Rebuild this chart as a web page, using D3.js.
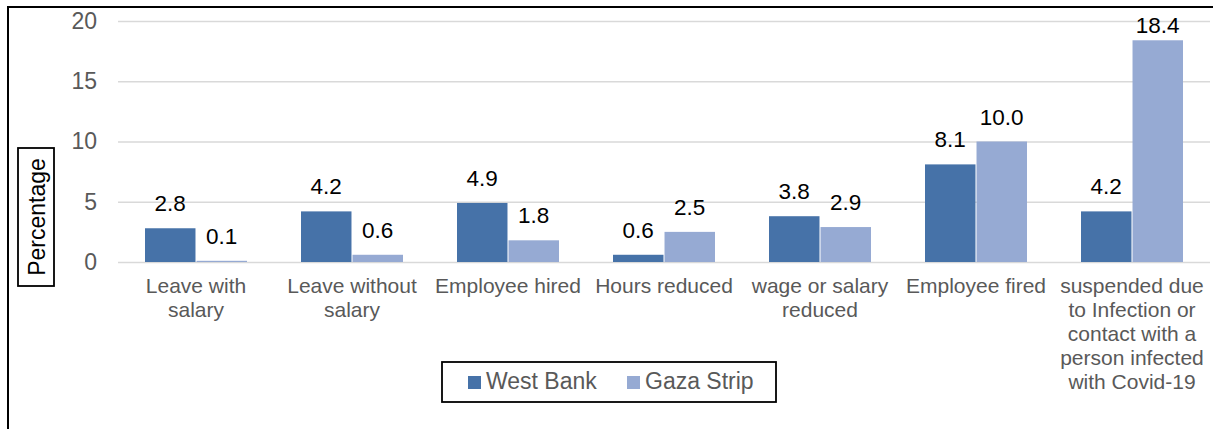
<!DOCTYPE html>
<html>
<head>
<meta charset="utf-8">
<script src="https://cdn.jsdelivr.net/npm/d3@7"></script>
<style>
  body { margin: 0; background: #fff; }
  svg { font-family: Arial, "Liberation Sans", sans-serif; }
</style>
</head>
<body>
<svg id="chart"></svg>
<script>
// Data
const categories = [
  ["Leave with", "salary"],
  ["Leave without", "salary"],
  ["Employee hired"],
  ["Hours reduced"],
  ["wage or salary", "reduced"],
  ["Employee fired"],
  ["suspended due", "to Infection or", "contact with a", "person infected", "with Covid-19"]
];
const westBank = [2.8, 4.2, 4.9, 0.6, 3.8, 8.1, 4.2];
const gazaStrip = [0.1, 0.6, 1.8, 2.5, 2.9, 10.0, 18.4];
const seriesNames = ["West Bank", "Gaza Strip"];
const yTicks = [0, 5, 10, 15, 20];

const colors = ["#4672A8", "#96AAD3"];
const width = 1213, height = 429;
const plot = { left: 118, right: 1210, top: 21, bottom: 262 };

const svg = d3.select("#chart").attr("width", width).attr("height", height);

// outer frame
svg.append("rect")
  .attr("x", 8).attr("y", 7).attr("width", 1220).attr("height", 440)
  .attr("fill", "none").attr("stroke", "#000").attr("stroke-width", 2);

const x = d3.scaleBand()
  .domain(d3.range(categories.length))
  .range([plot.left, plot.right])
  .paddingInner(0).paddingOuter(0);

const xInner = d3.scaleBand()
  .domain([0, 1])
  .range([27, x.bandwidth() - 27])
  .paddingInner(0.02);

const y = d3.scaleLinear().domain([0, 20]).range([plot.bottom, plot.top]);

// gridlines + y tick labels
const yAxis = d3.axisLeft(y).tickValues(yTicks).tickSize(-(plot.right - plot.left)).tickPadding(21);
const gy = svg.append("g").attr("transform", `translate(${plot.left},0)`).call(yAxis);
gy.select(".domain").remove();
gy.selectAll(".tick line").attr("stroke", "#d9d9d9").attr("stroke-width", 1.3);
gy.selectAll(".tick text")
  .attr("fill", "#595959").style("font-size", "23px")
  .attr("font-family", "Arial, 'Liberation Sans', sans-serif");

// bars
const groups = svg.selectAll("g.cat")
  .data(categories.map((c, i) => [westBank[i], gazaStrip[i]]))
  .enter().append("g")
  .attr("class", "cat")
  .attr("transform", (d, i) => `translate(${x(i)},0)`);

groups.selectAll("rect")
  .data(d => d)
  .enter().append("rect")
  .attr("x", (d, j) => xInner(j))
  .attr("width", xInner.bandwidth())
  .attr("y", d => y(d))
  .attr("height", d => y(0) - y(d))
  .attr("fill", (d, j) => colors[j]);

groups.selectAll("text.val")
  .data(d => d)
  .enter().append("text")
  .attr("class", "val")
  .attr("x", (d, j) => xInner(j) + xInner.bandwidth() / 2)
  .attr("y", d => Math.max(y(d) - 17, 33))
  .attr("text-anchor", "middle")
  .attr("fill", "#000")
  .style("font-size", "22.5px")
  .text(d => d.toFixed(1));

// category labels
categories.forEach((lines, i) => {
  const t = svg.append("text")
    .attr("x", x(i) + x.bandwidth() / 2)
    .attr("y", 293)
    .attr("text-anchor", "middle")
    .attr("fill", "#595959")
    .style("font-size", "21px");
  lines.forEach((l, k) => {
    t.append("tspan").attr("x", x(i) + x.bandwidth() / 2).attr("dy", k === 0 ? 0 : 24).text(l);
  });
});

// y axis title
svg.append("rect")
  .attr("x", 18).attr("y", 148).attr("width", 36).attr("height", 138)
  .attr("fill", "#fff").attr("stroke", "#000").attr("stroke-width", 1.8);
svg.append("text")
  .attr("transform", "translate(45,217) rotate(-90)")
  .attr("text-anchor", "middle")
  .attr("fill", "#000")
  .style("font-size", "23px")
  .text("Percentage");

// legend
const legend = svg.append("g");
legend.append("rect")
  .attr("x", 442).attr("y", 362).attr("width", 334).attr("height", 40)
  .attr("fill", "#fff").attr("stroke", "#000").attr("stroke-width", 1.8);
const legendX = [468, 627];
seriesNames.forEach((name, j) => {
  legend.append("rect")
    .attr("x", legendX[j]).attr("y", 376).attr("width", 13).attr("height", 13)
    .attr("fill", colors[j]);
  legend.append("text")
    .attr("x", legendX[j] + 18).attr("y", 389)
    .attr("fill", "#595959")
    .style("font-size", "23px")
    .text(name);
});
</script>
</body>
</html>
